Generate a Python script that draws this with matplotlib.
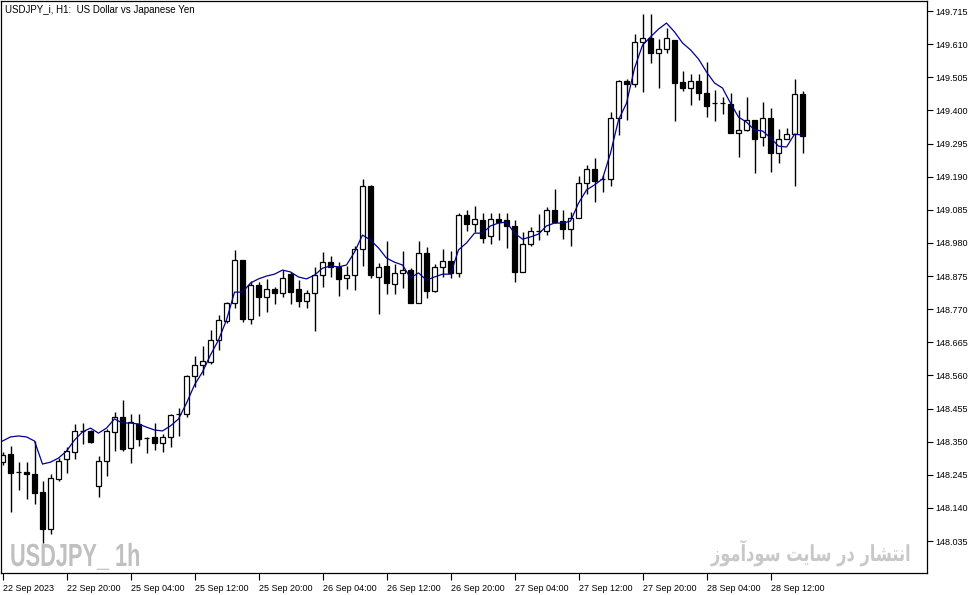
import matplotlib
matplotlib.use('Agg')
import matplotlib.pyplot as plt
import numpy as np
from matplotlib.patheffects import AbstractPathEffect
from matplotlib.transforms import Affine2D

# ---- data (USDJPY_i H1 candles) ----
opens = [148.285, 148.311, 148.254, 148.254, 148.247, 148.190, 148.073, 148.232, 148.295, 148.317,
         148.384, 148.384, 148.209, 148.289, 148.381, 148.428, 148.330, 148.406, 148.362, 148.365,
         148.346, 148.365, 148.438, 148.438, 148.558, 148.593, 148.602, 148.672, 148.732, 148.790,
         148.926, 148.739, 148.847, 148.809, 148.834, 148.821, 148.881, 148.834, 148.796, 148.821,
         148.878, 148.919, 148.904, 148.869, 148.878, 148.961, 149.160, 148.872, 148.907, 148.850,
         148.885, 148.894, 148.790, 148.948, 148.828, 148.904, 148.923, 148.885, 149.068, 149.040,
         149.053, 149.002, 149.056, 149.053, 149.034, 148.888, 148.977, 149.018, 149.018, 149.084,
         149.049, 149.024, 149.059, 149.170, 149.214, 149.183, 149.183, 149.376, 149.493, 149.484,
         149.617, 149.630, 149.582, 149.595, 149.623, 149.490, 149.471, 149.493, 149.455, 149.423,
         149.423, 149.420, 149.328, 149.338, 149.370, 149.316, 149.376, 149.265, 149.309, 149.325,
         149.452]
highs = [148.317, 148.336, 148.285, 148.285, 148.352, 148.225, 148.247, 148.298, 148.333, 148.406,
         148.409, 148.387, 148.305, 148.390, 148.444, 148.482, 148.438, 148.438, 148.365, 148.409,
         148.374, 148.438, 148.457, 148.561, 148.621, 148.653, 148.704, 148.751, 148.793, 148.958,
         148.926, 148.859, 148.856, 148.866, 148.840, 148.894, 148.888, 148.862, 148.831, 148.904,
         148.951, 148.938, 148.919, 148.907, 148.970, 149.183, 149.164, 148.916, 148.986, 148.913,
         148.954, 148.900, 148.986, 148.967, 148.913, 148.961, 148.954, 149.075, 149.084, 149.097,
         149.075, 149.075, 149.075, 149.075, 149.053, 149.015, 149.030, 149.072, 149.094, 149.151,
         149.084, 149.078, 149.192, 149.227, 149.249, 149.195, 149.395, 149.496, 149.500, 149.642,
         149.706, 149.706, 149.626, 149.661, 149.623, 149.525, 149.515, 149.515, 149.553, 149.465,
         149.443, 149.455, 149.401, 149.443, 149.370, 149.427, 149.408, 149.341, 149.344, 149.500,
         149.462]
lows = [148.276, 148.127, 148.197, 148.168, 148.152, 148.029, 148.057, 148.225, 148.251, 148.295,
        148.343, 148.346, 148.175, 148.241, 148.320, 148.320, 148.282, 148.336, 148.314, 148.324,
        148.317, 148.333, 148.368, 148.428, 148.523, 148.561, 148.596, 148.641, 148.726, 148.774,
        148.729, 148.723, 148.748, 148.761, 148.786, 148.809, 148.786, 148.777, 148.774, 148.701,
        148.840, 148.872, 148.812, 148.834, 148.831, 148.907, 148.869, 148.755, 148.818, 148.818,
        148.837, 148.790, 148.790, 148.805, 148.824, 148.872, 148.869, 148.872, 149.018, 149.015,
        148.980, 148.977, 148.989, 148.964, 148.856, 148.888, 148.970, 148.989, 149.005, 149.043,
        148.992, 148.970, 149.059, 149.135, 149.110, 149.141, 149.160, 149.322, 149.370, 149.474,
        149.458, 149.550, 149.471, 149.582, 149.366, 149.462, 149.417, 149.433, 149.379, 149.366,
        149.389, 149.328, 149.252, 149.335, 149.202, 149.287, 149.205, 149.233, 149.309, 149.160,
        149.265]
closes = [148.308, 148.251, 148.254, 148.247, 148.187, 148.073, 148.235, 148.289, 148.320, 148.384,
          148.384, 148.349, 148.289, 148.384, 148.428, 148.327, 148.412, 148.358, 148.362, 148.346,
          148.365, 148.434, 148.438, 148.558, 148.593, 148.606, 148.672, 148.736, 148.790, 148.926,
          148.739, 148.847, 148.809, 148.834, 148.821, 148.869, 148.824, 148.796, 148.821, 148.878,
          148.919, 148.904, 148.866, 148.878, 148.961, 149.160, 148.878, 148.904, 148.853, 148.885,
          148.894, 148.790, 148.948, 148.828, 148.904, 148.923, 148.885, 149.068, 149.040, 149.056,
          148.996, 149.056, 149.046, 149.034, 148.888, 148.977, 149.018, 149.018, 149.084, 149.046,
          149.024, 149.059, 149.170, 149.214, 149.176, 149.183, 149.376, 149.493, 149.484, 149.617,
          149.630, 149.582, 149.595, 149.630, 149.487, 149.471, 149.493, 149.455, 149.414, 149.423,
          149.423, 149.328, 149.338, 149.370, 149.309, 149.376, 149.265, 149.309, 149.325, 149.452,
          149.319]
ma_values = [148.352, 148.365, 148.368, 148.365, 148.352, 148.279, 148.285, 148.298, 148.320, 148.355,
             148.381, 148.393, 148.377, 148.393, 148.422, 148.409, 148.409, 148.406, 148.396, 148.387,
             148.384, 148.400, 148.422, 148.472, 148.530, 148.571, 148.625, 148.672, 148.736, 148.824,
             148.824, 148.853, 148.866, 148.875, 148.881, 148.894, 148.888, 148.872, 148.866, 148.878,
             148.900, 148.907, 148.904, 148.910, 148.951, 149.005, 148.989, 148.964, 148.932, 148.919,
             148.910, 148.869, 148.885, 148.862, 148.872, 148.881, 148.881, 148.958, 148.980, 149.011,
             149.011, 149.034, 149.043, 149.046, 149.011, 148.992, 148.999, 149.008, 149.034, 149.043,
             149.043, 149.049, 149.106, 149.148, 149.164, 149.183, 149.265, 149.370, 149.423, 149.534,
             149.607, 149.633, 149.658, 149.677, 149.649, 149.614, 149.592, 149.563, 149.522, 149.487,
             149.471, 149.423, 149.379, 149.363, 149.338, 149.335, 149.313, 149.287, 149.284, 149.325,
             149.322]
time_tick_bars = [0, 8, 16, 24, 32, 40, 48, 56, 64, 72, 80, 88, 96]
time_labels = ["22 Sep 2023", "22 Sep 20:00", "25 Sep 04:00", "25 Sep 12:00", "25 Sep 20:00",
               "26 Sep 04:00", "26 Sep 12:00", "26 Sep 20:00", "27 Sep 04:00", "27 Sep 12:00",
               "27 Sep 20:00", "28 Sep 04:00", "28 Sep 12:00"]
price_ticks = [148.035, 148.140, 148.245, 148.350, 148.455, 148.560, 148.665, 148.770, 148.875,
               148.980, 149.085, 149.190, 149.295, 149.400, 149.505, 149.610, 149.715]
title_text = "USDJPY_i, H1:  US Dollar vs Japanese Yen"
watermark_text = "USDJPY_ 1h"
# "انتشار در سایت سودآموز" written in Arabic presentation forms, in visual order
persian_text = "\uFEAF\uFEEE\uFEE3\uFE81\uFEA9\uFEEE\uFEB3 \uFE96\uFEF3\uFE8E\uFEB3 \uFEAD\uFEA9 \uFEAD\uFE8E\uFEB8\uFE98\uFEE7\uFE8D"


class HSquash(AbstractPathEffect):
    """Narrow the glyphs horizontally, keeping the left (or right) edge of the text fixed."""
    def __init__(self, sx, anchor='left'):
        super().__init__()
        self.sx = sx
        self.anchor = anchor

    def draw_path(self, renderer, gc, tpath, affine, rgbFace=None):
        x0 = 0.0
        if self.anchor == 'right':
            x0 = tpath.get_extents().x1
        t = Affine2D().translate(-x0, 0).scale(self.sx, 1.0).translate(x0, 0)
        renderer.draw_path(gc, tpath, t + affine, rgbFace)


# ---- figure ----
W, H = 979, 595
fig = plt.figure(figsize=(W / 100, H / 100), dpi=100)
fig.patch.set_facecolor('white')
left_px, right_px, top_px, bot_px = 1.5, 927, 1, 573
ax = fig.add_axes([left_px / W, (H - bot_px) / H, (right_px - left_px) / W, (bot_px - top_px) / H])
ax.set_facecolor('white')

x = np.arange(len(opens))
o = np.array(opens)
c = np.array(closes)
up = c >= o
ax.vlines(x, lows, highs, color='black', lw=1.0, zorder=1)
ax.bar(x, np.abs(c - o), bottom=np.minimum(o, c), width=0.62,
       color=['white' if u else 'black' for u in up], edgecolor='black', linewidth=0.9, zorder=2)
ax.plot(x, ma_values, color='#00008b', lw=0.9, zorder=3)

ax.set_xlim(-0.125, 115.56)
ax.set_ylim(147.9336, 149.747)

for s in ax.spines.values():
    s.set_color('black')
    s.set_linewidth(0.9)

tick_font = 'Liberation Sans'
ax.yaxis.tick_right()
ax.set_yticks(price_ticks)
ax.set_yticklabels([f"{v:.3f}" for v in price_ticks], fontsize=6.5, family=tick_font)
ax.tick_params(axis='y', direction='out', length=4, width=0.8, pad=2, colors='black')
ax.set_xticks(time_tick_bars)
ax.set_xticklabels(time_labels, fontsize=6.5, family=tick_font)
for lbl in ax.get_xticklabels():
    lbl.set_horizontalalignment('left')
ax.tick_params(axis='x', direction='out', length=5, width=0.8, pad=3, colors='black')

fig.text(5 / W, 1 - 10 / H, title_text, fontsize=7, family=tick_font, va='center', ha='left')
fig.text(10 / W, 1 - 566 / H, watermark_text, fontsize=23, family='Liberation Sans',
         fontweight='bold', color='#c0c0c0', va='baseline', ha='left',
         path_effects=[HSquash(0.68, 'left')])
fig.text(912 / W, 1 - 561 / H, persian_text, fontsize=16, family=['DejaVu Sans'],
         fontweight='bold', color='#c8c8c8', va='baseline', ha='right',
         path_effects=[HSquash(0.73, 'right')])

fig.savefig('out.png', dpi=100)
